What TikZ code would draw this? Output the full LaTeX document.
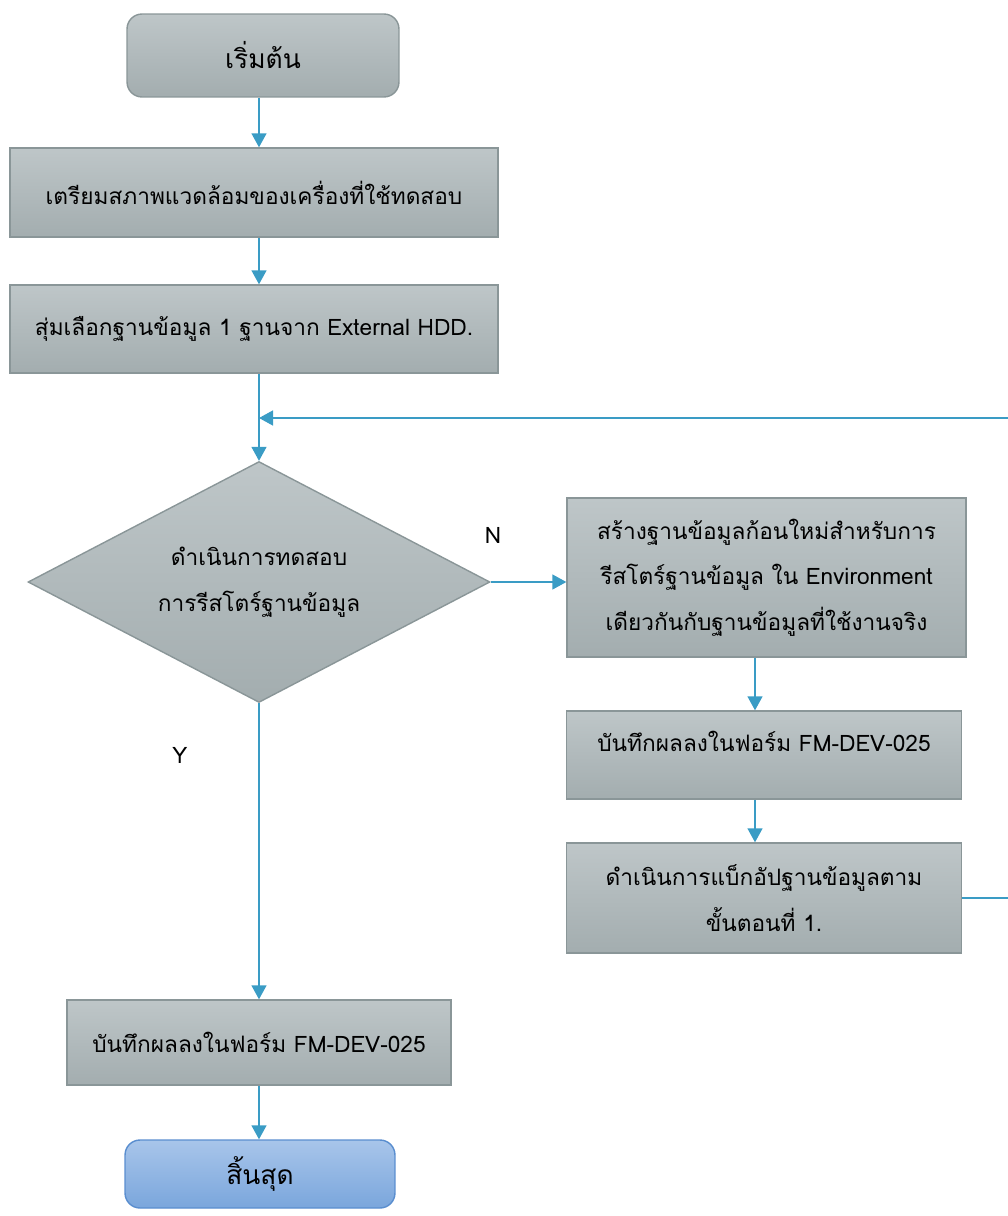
\documentclass[tikz,border=0pt]{standalone}
\usepackage{fontspec}
\newfontfamily\thaifont[Script=Thai]{Loma}
\usetikzlibrary{shapes.geometric}
\usetikzlibrary{arrows.meta}
\definecolor{boxtop}{HTML}{BEC6C8}
\definecolor{boxbot}{HTML}{A3ADAF}
\definecolor{boxline}{HTML}{8A9698}
\definecolor{endtop}{HTML}{A8C5EA}
\definecolor{endbot}{HTML}{7AA6DC}
\definecolor{endline}{HTML}{5A8ECF}
\definecolor{flowblue}{HTML}{3A9CC5}
\begin{document}
\begin{tikzpicture}[x=0.02cm, y=-0.02cm, every node/.style={font=\thaifont\fontsize{12.9}{26}\selectfont},
    proc/.style={draw=boxline, line width=0.8pt, top color=boxtop, bottom color=boxbot, align=center, inner sep=2pt},
    term/.style={proc, rounded corners=0.3cm, font=\thaifont\fontsize{15}{19}\selectfont},
    flow/.style={draw=flowblue, line width=0.8pt, -{Triangle[length=0.28cm, width=0.3cm]}}]
    \useasboundingbox (0,0) rectangle (1007,1216);
    \coordinate (axis) at (259,0);
    \coordinate (axis2) at (755,0);
    \coordinate (join) at (259,418);
    \coordinate (edge) at (1030,0);
    \node[term, minimum width=5.44cm, minimum height=1.66cm] (start) at (263,55.5) {เริ่มต้น};
    \node[proc, minimum width=9.76cm, minimum height=1.78cm] (prep) at (254,192.5) {เตรียมสภาพแวดล้อมของเครื่องที่ใช้ทดสอบ};
    \node[proc, minimum width=9.76cm, minimum height=1.76cm] (pick) at (254,329) {สุ่มเลือกฐานข้อมูล 1 ฐานจาก External HDD.};
    \node[proc, diamond, aspect=1.92, minimum width=9.24cm, minimum height=4.82cm, inner sep=0pt] (test) at (259,582) {ดำเนินการทดสอบ\\การรีสโตร์ฐานข้อมูล};
    \node[proc, minimum width=7.98cm, minimum height=3.18cm] (create) at (766.5,577.5) {สร้างฐานข้อมูลก้อนใหม่สำหรับการ\\รีสโตร์ฐานข้อมูล ใน Environment\\เดียวกันกับฐานข้อมูลที่ใช้งานจริง};
    \node[proc, minimum width=7.9cm, minimum height=1.76cm, text depth=0.55cm] (logright) at (764,755) {บันทึกผลลงในฟอร์ม FM-DEV-025};
    \node[proc, minimum width=7.9cm, minimum height=2.2cm] (backup) at (764,898) {ดำเนินการแบ็กอัปฐานข้อมูลตาม\\ขั้นตอนที่ 1.};
    \node[proc, minimum width=7.68cm, minimum height=1.7cm] (logleft) at (259,1042.5) {บันทึกผลลงในฟอร์ม FM-DEV-025};
    \node[term, top color=endtop, bottom color=endbot, draw=endline, minimum width=5.4cm, minimum height=1.36cm] (stop) at (260,1174) {สิ้นสุด};
    \node (nmark) at (493,535) {N};
    \node (ymark) at (180,755) {Y};
    \draw[flow] (start.south -| axis) -- (prep.north -| axis);
    \draw[flow] (prep.south -| axis) -- (pick.north -| axis);
    \draw[flow] (pick.south -| axis) -- (test.north);
    \draw[flow] (test.east) -- (test.east -| create.west);
    \draw[flow] (create.south -| axis2) -- (logright.north -| axis2);
    \draw[flow] (logright.south -| axis2) -- (backup.north -| axis2);
    \draw[flow] (backup.east) -- (backup.east -| edge) |- (join);
    \draw[flow] (test.south) -- (logleft.north -| axis);
    \draw[flow] (logleft.south -| axis) -- (stop.north -| axis);
\end{tikzpicture}
\end{document}
